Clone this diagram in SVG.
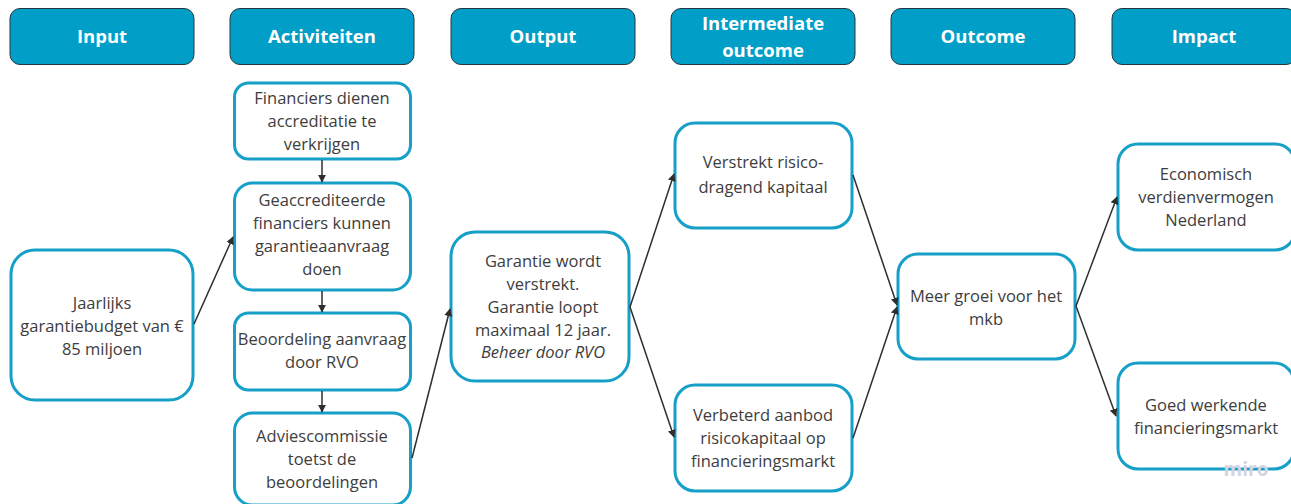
<svg xmlns="http://www.w3.org/2000/svg" width="1291" height="504" viewBox="0 0 1291 504">
<defs>
<style>
.hdr rect{fill:#019ec7;stroke:#263640;stroke-width:1}
.hdr text{fill:#ffffff;font-family:"Open Sans","Liberation Sans",sans-serif;font-weight:700;font-size:18.5px;text-anchor:middle}
.node rect{fill:#ffffff;stroke:#16a0c8;stroke-width:3}
.node text{fill:#3d3d3d;font-family:"Open Sans","Liberation Sans",sans-serif;font-size:16.5px;text-anchor:middle}
.conn line{stroke:#2e2e2e;stroke-width:1.5;fill:none;marker-end:url(#ah)}
</style>
<marker id="ah" viewBox="0 0 10 10" refX="9" refY="5" markerWidth="8" markerHeight="8" markerUnits="userSpaceOnUse" orient="auto">
<path d="M0,0 L10,5 L0,10 z" fill="#2e2e2e"/>
</marker>
</defs>
<rect width="1291" height="504" fill="#ffffff"/>

<g id="h-input" class="hdr"><rect x="10" y="8.5" width="184" height="56" rx="10"/><text x="102" y="43">Input</text></g>
<g id="h-activiteiten" class="hdr"><rect x="230" y="8.5" width="184" height="56" rx="10"/><text x="322" y="43">Activiteiten</text></g>
<g id="h-output" class="hdr"><rect x="451" y="8.5" width="184" height="56" rx="10"/><text x="543" y="43">Output</text></g>
<g id="h-intermediate" class="hdr"><rect x="671" y="8.5" width="184" height="56" rx="10"/><text x="763" y="30">Intermediate</text><text x="763" y="57">outcome</text></g>
<g id="h-outcome" class="hdr"><rect x="891" y="8.5" width="184" height="56" rx="10"/><text x="983" y="43">Outcome</text></g>
<g id="h-impact" class="hdr"><rect x="1112" y="8.5" width="184" height="56" rx="10"/><text x="1204" y="43">Impact</text></g>

<g id="n-input" class="node"><rect x="11" y="250" width="182" height="150" rx="24"/>
<text x="102" y="309">Jaarlijks</text><text x="102" y="332">garantiebudget van €</text><text x="102" y="355">85 miljoen</text></g>

<g id="n-a1" class="node"><rect x="234.5" y="83" width="176" height="76" rx="14"/>
<text x="322" y="104">Financiers dienen</text><text x="322" y="127">accreditatie te</text><text x="322" y="150">verkrijgen</text></g>

<g id="n-a2" class="node"><rect x="234.5" y="183" width="176" height="107" rx="18"/>
<text x="322" y="206">Geaccrediteerde</text><text x="322" y="229">financiers kunnen</text><text x="322" y="252">garantieaanvraag</text><text x="322" y="275">doen</text></g>

<g id="n-a3" class="node"><rect x="234.5" y="313" width="176" height="77" rx="14"/>
<text x="322" y="345">Beoordeling aanvraag</text><text x="322" y="368">door RVO</text></g>

<g id="n-a4" class="node"><rect x="234.5" y="413" width="176" height="92" rx="18"/>
<text x="322" y="442">Adviescommissie</text><text x="322" y="465">toetst de</text><text x="322" y="488">beoordelingen</text></g>

<g id="n-output" class="node"><rect x="451" y="232" width="178" height="149" rx="24"/>
<text x="543" y="267">Garantie wordt</text><text x="543" y="290">verstrekt.</text><text x="543" y="313">Garantie loopt</text><text x="543" y="336">maximaal 12 jaar.</text><text x="543" y="358" font-style="italic">Beheer door RVO</text></g>

<g id="n-i1" class="node"><rect x="675" y="123" width="177" height="105" rx="20"/>
<text x="763" y="168">Verstrekt risico-</text><text x="763" y="193">dragend kapitaal</text></g>

<g id="n-i2" class="node"><rect x="675" y="385" width="177" height="106" rx="20"/>
<text x="763" y="421">Verbeterd aanbod</text><text x="763" y="444">risicokapitaal op</text><text x="763" y="467">financieringsmarkt</text></g>

<g id="n-outcome" class="node"><rect x="898" y="254" width="177" height="105" rx="20"/>
<text x="986" y="302">Meer groei voor het</text><text x="986" y="325">mkb</text></g>

<g id="n-imp1" class="node"><rect x="1118" y="144" width="177" height="106" rx="20"/>
<text x="1206" y="180">Economisch</text><text x="1206" y="203">verdienvermogen</text><text x="1206" y="226">Nederland</text></g>

<g id="n-imp2" class="node"><rect x="1118" y="363" width="176" height="106" rx="20"/>
<text x="1206" y="411">Goed werkende</text><text x="1206" y="434">financieringsmarkt</text></g>

<g id="connectors" class="conn">
<line x1="322" y1="160" x2="322" y2="182"/>
<line x1="322" y1="291" x2="322" y2="312"/>
<line x1="322" y1="391" x2="322" y2="412"/>
<line x1="194" y1="324" x2="233" y2="237"/>
<line x1="412" y1="458" x2="450" y2="309"/>
<line x1="630" y1="307" x2="674" y2="174"/>
<line x1="630" y1="307" x2="674" y2="437"/>
<line x1="853" y1="175" x2="897" y2="305"/>
<line x1="853" y1="438" x2="897" y2="307"/>
<line x1="1076" y1="306" x2="1117" y2="197"/>
<line x1="1076" y1="306" x2="1116" y2="416"/>
</g>

<text x="1246" y="476" fill="#d4d4e2" font-family="Open Sans, Liberation Sans, sans-serif" font-weight="700" font-size="19" text-anchor="middle">miro</text>
</svg>
